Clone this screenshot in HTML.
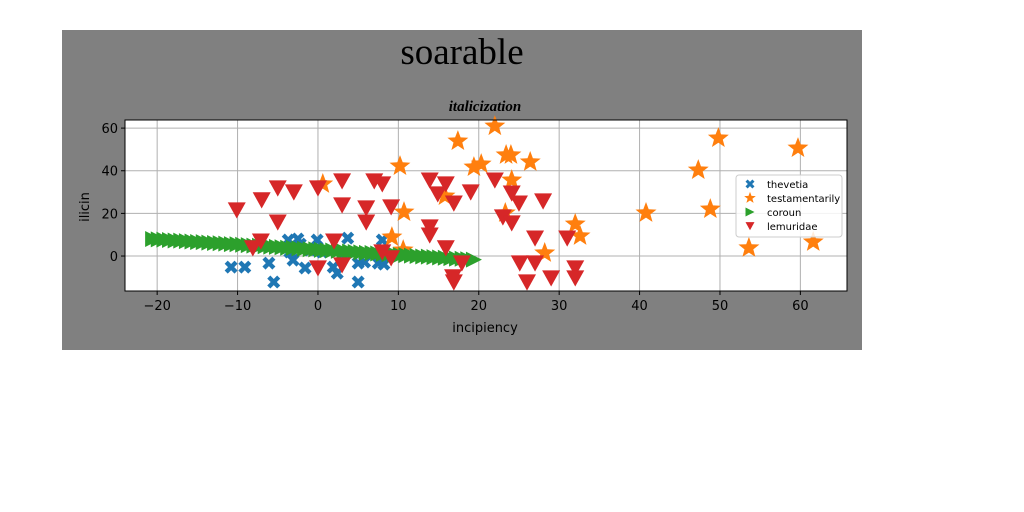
<!DOCTYPE html>
<html><head><meta charset="utf-8"><style>
body{margin:0;width:1024px;height:512px;background:#fff;overflow:hidden}
svg{display:block}
text{font-family:"DejaVu Sans","Liberation Sans",sans-serif}
</style></head><body>
<svg id="c" width="1024" height="512">
<rect x="62" y="30" width="800" height="320" fill="#808080"/>
<text x="462" y="64" text-anchor="middle" font-size="37" style="font-family:'Liberation Serif','DejaVu Serif',serif">soarable</text>
<text x="485" y="111" text-anchor="middle" font-size="15" font-style="italic" font-weight="bold" style="font-family:'Liberation Serif',serif">italicization</text>
<rect x="125" y="120" width="722" height="171" fill="#fff"/>
<g id="grid"></g><g id="marks"></g>
<rect x="125" y="120" width="722" height="171" fill="none" stroke="#000" stroke-width="1"/>
<g id="ticks"></g>
<text x="485" y="332" text-anchor="middle" font-size="13">incipiency</text>
<text x="0" y="0" transform="translate(89,207) rotate(-90)" text-anchor="middle" font-size="13">ilicin</text>
<g id="legend"></g>
</svg>
<script>
const xTicks=[-20,-10,0,10,20,30,40,50,60];
const yTicks=[0,20,40,60];
const blueX=[-10.8,-9.1,-6.1,-5.5,-3.7,-2.5,-0.1,3.7,8.0,-1.6,1.9,2.4,5.0,5.0,7.5,-3.1,0.5,3.4,8.2,-2.2,-1.0,-3.5,5.8];
const blueY=[-5.2,-5.2,-3.3,-12.2,7.5,8.0,7.5,8.4,7.5,-5.6,-5.2,-8.0,-12.2,-3.3,-3.3,-1.9,1.9,0.9,-3.8,5.6,2.8,1.9,-2.8];
const orangeX=[0.6,10.2,10.7,17.4,19.4,20.3,22.0,23.4,24.0,24.1,26.4,15.8,9.2,10.6,28.2,32.0,32.6,40.8,47.3,48.8,49.8,53.6,59.7,61.6,23.3];
const orangeY=[33.8,42.2,20.6,53.9,41.7,43.1,60.9,47.4,47.4,35.6,44.1,28.1,8.9,2.8,1.4,15.0,9.4,20.2,40.3,22.0,55.3,3.8,50.6,6.6,20.2];
const greenX=[-20.5,-19.8,-19.1,-18.4,-17.7,-17.0,-16.3,-15.6,-14.9,-14.2,-13.5,-12.8,-12.1,-11.4,-10.7,-10.0,-9.3,-8.6,-7.9,-7.2,-6.5,-5.8,-5.1,-4.4,-3.7,-3.0,-2.3,-1.6,-0.9,-0.2,0.5,1.2,1.9,2.6,3.3,4.0,4.7,5.4,6.1,6.8,7.5,8.2,8.9,9.6,10.3,11.0,11.7,12.4,13.1,13.8,14.5,15.2,15.9,16.6,17.3,18.0,18.7,19.4];
const greenY=[8.0,7.8,7.7,7.5,7.3,7.2,7.0,6.8,6.6,6.5,6.3,6.1,6.0,5.8,5.6,5.5,5.3,5.1,4.9,4.8,4.6,4.4,4.3,4.1,3.9,3.8,3.6,3.4,3.2,3.1,2.9,2.7,2.6,2.4,2.2,2.1,1.9,1.7,1.5,1.4,1.2,1.0,0.9,0.7,0.5,0.4,0.2,0.0,-0.2,-0.3,-0.5,-0.7,-0.8,-1.0,-1.2,-1.3,-1.5,-1.7];
const redX=[-10.1,-7.0,-5.0,-3.0,0,3.0,7.0,8.0,3.0,6.0,9.1,-5.0,6.0,-7.1,-8.1,2.0,0,3.0,8.0,9.1,13.9,15.9,14.9,16.9,19.0,13.9,13.9,15.9,17.9,16.9,22.0,24.1,25.0,28.0,23.0,24.1,27.0,31.0,16.8,25.1,27.0,26.0,29.0,32.0,32.0];
const redY=[21.6,26.3,31.9,30.0,31.9,35.2,35.2,33.8,23.9,22.5,23.0,15.9,15.9,7.0,3.8,7.0,-5.6,-4.2,1.9,-0.9,35.6,33.8,29.1,24.8,30.0,13.6,9.8,3.8,-3.3,-12.2,35.6,29.5,24.8,25.8,18.3,15.5,8.4,8.4,-9.8,-3.3,-3.3,-12.2,-10.3,-5.6,-10.3];
const legendLabels=["thevetia","testamentarily","coroun","lemuridae"];
const colors=["#1f77b4","#ff7f0e","#2ca02c","#d62728"];
const NS="http://www.w3.org/2000/svg";
const X0=-24.0,X1=65.8,Y0=-16.4,Y1=63.8,L=125,T=120,W=722,H=171;
function sx(v){return L+(v-X0)/(X1-X0)*W;}
function sy(v){return T+H-(v-Y0)/(Y1-Y0)*H;}
function el(t,a,p){const e=document.createElementNS(NS,t);for(const k in a)e.setAttribute(k,a[k]);p.appendChild(e);return e;}
const grid=document.getElementById('grid'),ticks=document.getElementById('ticks'),marks=document.getElementById('marks'),leg=document.getElementById('legend');
xTicks.forEach(v=>{const x=sx(v);
 const g=el('line',{x1:x,x2:x,y1:T,y2:T+H,stroke:'#b0b0b0','stroke-width':1},grid);
 
 el('line',{x1:x,x2:x,y1:T+H,y2:T+H+4,stroke:'#000'},ticks);
 const t=el('text',{x:x,y:T+H+19,'text-anchor':'middle','font-size':13},ticks);t.textContent=v<0?'\u2212'+(-v):v;
 });
yTicks.forEach(v=>{const y=sy(v);
 const g=el('line',{x1:L,x2:L+W,y1:y,y2:y,stroke:'#b0b0b0','stroke-width':1},grid);
 
 el('line',{x1:L-4,x2:L,y1:y,y2:y,stroke:'#000'},ticks);
 const t=el('text',{x:L-7,y:y+5,'text-anchor':'end','font-size':13},ticks);t.textContent=v;
 });
function star(cx,cy,r){let p=[];for(let i=0;i<10;i++){const a=-Math.PI/2+i*Math.PI/5,rr=i%2?r*0.42:r;p.push((cx+rr*Math.cos(a)).toFixed(1)+','+(cy+rr*Math.sin(a)).toFixed(1));}return p.join(' ');}
function shape(k,cx,cy,s,parent){let e;
 if(k==0){const a=s*0.5,b=s*0.17;
  e=el('path',{d:`M${cx-a} ${cy-a+b*1.4}L${cx-a+b*1.4} ${cy-a}L${cx} ${cy-b*1.4}L${cx+a-b*1.4} ${cy-a}L${cx+a} ${cy-a+b*1.4}L${cx+b*1.4} ${cy}L${cx+a} ${cy+a-b*1.4}L${cx+a-b*1.4} ${cy+a}L${cx} ${cy+b*1.4}L${cx-a+b*1.4} ${cy+a}L${cx-a} ${cy+a-b*1.4}L${cx-b*1.4} ${cy}Z`,fill:colors[0]},parent);}
 else if(k==1){e=el('polygon',{points:star(cx,cy,s*0.55),fill:colors[1]},parent);}
 else if(k==2){const h=s*0.5;e=el('polygon',{points:`${cx-h},${cy-h} ${cx+h},${cy} ${cx-h},${cy+h}`,fill:colors[2]},parent);}
 else {const h=s*0.5;e=el('polygon',{points:`${cx-h},${cy-h*0.85} ${cx+h},${cy-h*0.85} ${cx},${cy+h*0.95}`,fill:colors[3]},parent);}
 return e;}
blueX.forEach((v,i)=>{const e=shape(0,sx(v),sy(blueY[i]),13,marks);
 });
orangeX.forEach((v,i)=>{const e=shape(1,sx(v),sy(orangeY[i]),20,marks);
 });
greenX.forEach((v,i)=>{const e=shape(2,sx(v),sy(greenY[i]),16,marks);
 });
redX.forEach((v,i)=>{const e=shape(3,sx(v),sy(redY[i]),18,marks);
 });
const lb=el('rect',{x:736,y:175,width:106,height:62,rx:3,fill:'#fff','fill-opacity':0.85,stroke:'#ccc'},leg);

legendLabels.forEach((n,i)=>{const y=184+i*14;
 const m=shape(i,750,y,i==1?11:9,leg);
 const t=el('text',{x:767,y:y+4,'font-size':10},leg);t.textContent=n;
 });
</script>
</body></html>
